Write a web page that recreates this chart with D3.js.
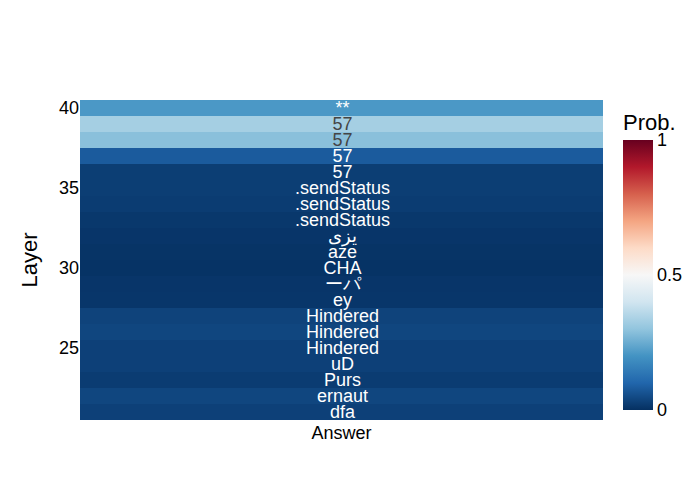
<!DOCTYPE html>
<html><head><meta charset="utf-8">
<script src="https://cdn.jsdelivr.net/npm/d3@7"></script>
<style>body{margin:0;background:#fff}svg{font-family:"Liberation Sans",Arial,sans-serif}</style>
</head><body><svg id="c" width="700" height="500"></svg>
<script>
const layers = [21,22,23,24,25,26,27,28,29,30,31,32,33,34,35,36,37,38,39,40];
const answers = ["dfa","ernaut","Purs","uD","Hindered","Hindered","Hindered","ey","ーパ","CHA","aze","یزی",".sendStatus",".sendStatus",".sendStatus","57","57","57","57","**"];
const probs = [0.03,0.04,0.022,0.03,0.03,0.04,0.035,0.012,0.01,0.005,0.007,0.01,0.015,0.022,0.025,0.025,0.08,0.29,0.33,0.21];
const columns = ["Answer"];
const colorTicks = [0,0.5,1];
const colorTickLabels = ["0","0.5","1"];
const stops = ["rgb(5,48,97)","rgb(33,102,172)","rgb(67,147,195)","rgb(146,197,222)","rgb(209,229,240)","rgb(247,247,247)","rgb(253,219,199)","rgb(244,165,130)","rgb(214,96,77)","rgb(178,24,43)","rgb(103,0,31)"];

const svg = d3.select("#c");
const L=80,R=603,T=100,B=420;
const color = d3.scaleLinear().domain(d3.range(11).map(i=>i/10)).range(stops).interpolate(d3.interpolateRgb).clamp(true);
const x = d3.scaleBand().domain(columns).range([L,R]);
const y = d3.scaleLinear().domain([20.5,40.5]).range([B,T]);
const rows = layers.map((l,i)=>({layer:l,ans:answers[i],p:probs[i]}));

svg.selectAll("rect.cell").data(rows).join("rect").attr("class","cell")
  .attr("x",x("Answer")).attr("width",x.bandwidth())
  .attr("y",d=>y(d.layer+0.5)).attr("height",d=>y(d.layer-0.5)-y(d.layer+0.5))
  .attr("fill",d=>color(d.p)).attr("shape-rendering","crispEdges");

svg.selectAll("text.lbl").data(rows).join("text").attr("class","lbl")
  .attr("x",x("Answer")+x.bandwidth()/2+1).attr("y",d=>y(d.layer)).attr("dy","0.36em")
  .attr("text-anchor","middle").attr("font-size",18)
  .attr("fill",d=>{const c=d3.rgb(color(d.p));const lum=0.299*c.r+0.587*c.g+0.114*c.b;return lum>140?"#444":"#fff";})
  .text(d=>d.ans);

// y axis
const yAxis = svg.append("g").attr("transform",`translate(${L},0)`)
  .call(d3.axisLeft(y).tickValues([25,30,35,40]).tickSize(0).tickPadding(1));
yAxis.select(".domain").remove();
yAxis.selectAll("text").attr("font-size",18).attr("fill","#000").attr("font-family","Liberation Sans, Arial, sans-serif");

// x axis
const xAxis = svg.append("g").attr("transform",`translate(0,${B})`)
  .call(d3.axisBottom(x).tickSize(0).tickPadding(6));
xAxis.select(".domain").remove();
xAxis.selectAll("text").attr("font-size",18).attr("fill","#000").attr("font-family","Liberation Sans, Arial, sans-serif");

svg.append("text").attr("transform","translate(37,260) rotate(-90)").attr("text-anchor","middle")
  .attr("font-size",22).attr("fill","#000").text("Layer");

// colorbar
const cbL=623,cbW=30,cbT=140,cbB=410;
const defs = svg.append("defs");
const grad = defs.append("linearGradient").attr("id","g").attr("x1",0).attr("y1",1).attr("x2",0).attr("y2",0);
grad.selectAll("stop").data(stops).join("stop").attr("offset",(d,i)=>i/10).attr("stop-color",d=>d);
svg.append("rect").attr("x",cbL).attr("y",cbT).attr("width",cbW).attr("height",cbB-cbT).attr("fill","url(#g)");
const cy = d3.scaleLinear().domain([0,1]).range([cbB,cbT]);
const cAxis = svg.append("g").attr("transform",`translate(${cbL+cbW},0)`)
  .call(d3.axisRight(cy).tickValues(colorTicks).tickFormat((d,i)=>colorTickLabels[i]).tickSize(0).tickPadding(4));
cAxis.select(".domain").remove();
cAxis.selectAll("text").attr("font-size",18).attr("fill","#000").attr("font-family","Liberation Sans, Arial, sans-serif");
svg.append("text").attr("x",cbL).attr("y",130).attr("font-size",22).attr("fill","#000").text("Prob.");
</script></body></html>
